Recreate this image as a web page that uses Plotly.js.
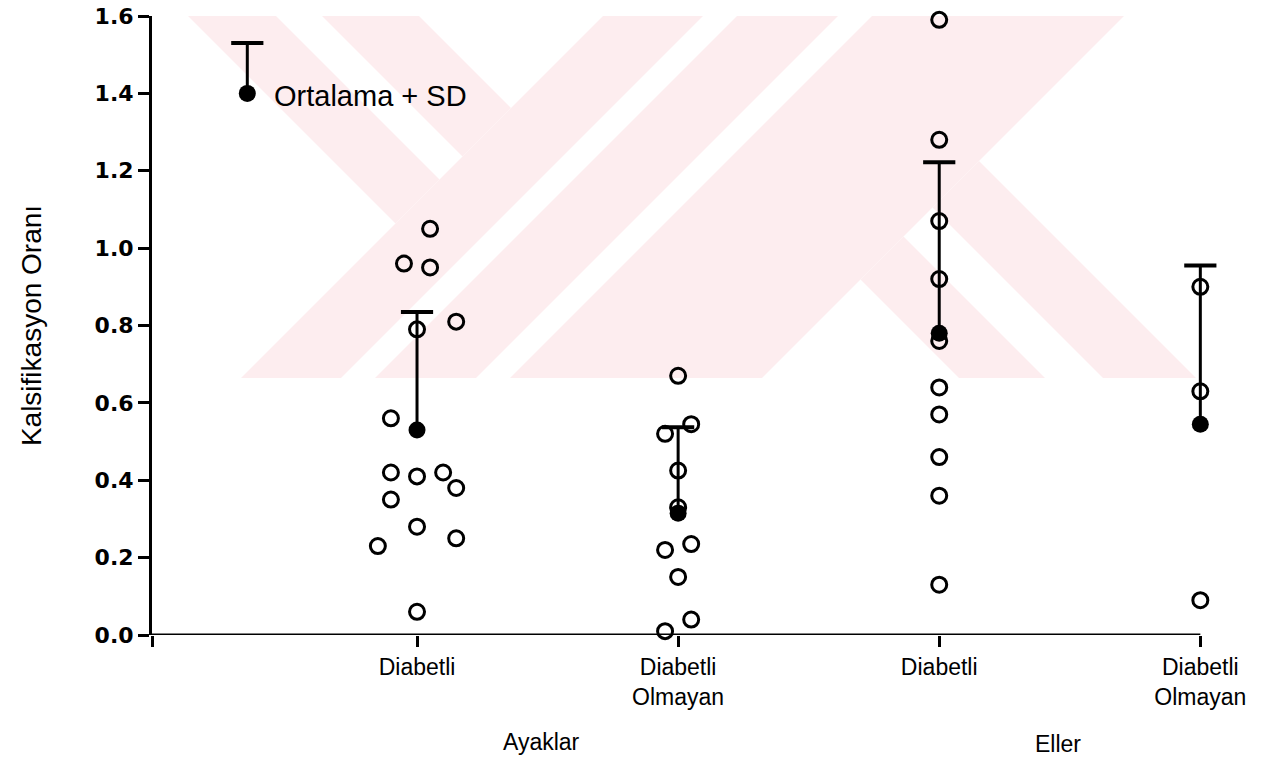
<!DOCTYPE html>
<html>
<head>
<meta charset="utf-8">
<script src="https://cdn.plot.ly/plotly-3.0.1.min.js"></script>
<style>html,body{margin:0;padding:0;background:#fff;}#chart{width:1264px;height:762px;}</style>
</head>
<body>
<div id="chart"></div>
<script>
// ---- data ----
const categories = ['Diabetli', 'Diabetli<br>Olmayan', 'Diabetli', 'Diabetli<br>Olmayan'];
const categoryPos = [1, 2, 3, 4];
const groupLabels = ['Ayaklar', 'Eller'];

// Ayaklar - Diabetli
const ayakDiabValues = [1.05, 0.96, 0.95, 0.81, 0.79, 0.56, 0.42, 0.41, 0.42, 0.38, 0.35, 0.28, 0.25, 0.23, 0.06];
const ayakDiabJitter = [0.05, -0.05, 0.05, 0.15, 0, -0.10, -0.10, 0, 0.10, 0.15, -0.10, 0, 0.15, -0.15, 0];
// Ayaklar - Diabetli Olmayan
const ayakNonValues = [0.67, 0.52, 0.545, 0.425, 0.33, 0.22, 0.235, 0.15, 0.04, 0.01];
const ayakNonJitter = [0, -0.05, 0.05, 0, 0, -0.05, 0.05, 0, 0.05, -0.05];
// Eller - Diabetli
const elDiabValues = [1.59, 1.28, 1.07, 0.92, 0.76, 0.64, 0.57, 0.46, 0.36, 0.13];
const elDiabJitter = [0, 0, 0, 0, 0, 0, 0, 0, 0, 0];
// Eller - Diabetli Olmayan
const elNonValues = [0.90, 0.63, 0.09];
const elNonJitter = [0, 0, 0];

// Ortalama + SD
const means = [0.53, 0.315, 0.78, 0.545];
const sds = [0.305, 0.222, 0.442, 0.41];

// legend sample
const legendText = 'Ortalama + SD';
const legendX = [0.35];
const legendMean = [1.40];
const legendSD = [0.13];

const yTicks = [0, 0.2, 0.4, 0.6, 0.8, 1.0, 1.2, 1.4, 1.6];
const yTitle = 'Kalsifikasyon Oranı';

// ---- build traces ----
const narrow = '"Liberation Sans Narrow", "Arial Narrow", "Liberation Sans", Arial, sans-serif';
function openTrace(pos, vals, jit) {
  return {
    type: 'scatter', mode: 'markers',
    x: vals.map((v, i) => pos + jit[i]), y: vals,
    cliponaxis: false, showlegend: false, hoverinfo: 'y',
    marker: {symbol: 'circle-open', size: 15, color: '#000', line: {width: 3, color: '#000'}}
  };
}
function meanTraces(xs, ms, ss) {
  return [
    { // vertical SD line, no caps
      type: 'scatter', mode: 'markers', x: xs, y: ms, cliponaxis: false, showlegend: false,
      marker: {symbol: 'circle', size: 17, color: '#000'},
      error_y: {type: 'data', array: ss, arrayminus: ss.map(() => 0), symmetric: false,
                color: '#000', thickness: 3, width: 0}
    },
    { // top cap only
      type: 'scatter', mode: 'markers', x: xs, y: ms.map((m, i) => m + ss[i]),
      cliponaxis: false, showlegend: false, hoverinfo: 'skip',
      marker: {symbol: 'line-ew', size: 23, color: '#000', line: {width: 4, color: '#000'}}
    }
  ];
}
const traces = [
  openTrace(categoryPos[0], ayakDiabValues, ayakDiabJitter),
  openTrace(categoryPos[1], ayakNonValues, ayakNonJitter),
  openTrace(categoryPos[2], elDiabValues, elDiabJitter),
  openTrace(categoryPos[3], elNonValues, elNonJitter)
].concat(meanTraces(categoryPos, means, sds), meanTraces(legendX, legendMean, legendSD));

// ---- frame geometry ----
const xMin = -0.015, xAxisEnd = 4, xMax = 4.06;
const L = 152, T = 16, H = 619;
const unitPx = (1200 - L) / (xAxisEnd - xMin);
const W = Math.round(unitPx * (xMax - xMin));

// ---- background watermark (pale stripes), in pixel geometry of the frame ----
function P(px, py) { return ((px - L) / W).toFixed(5) + ',' + ((T + H - py) / H).toFixed(5); }
const wmPolys = [
  [[188,16],[276,16],[439.5,179.5],[395.5,223.5]],
  [[322,16],[419,16],[511,108],[462.5,156.5]],
  [[603,16],[703,16],[341,378],[241,378]],
  [[737,16],[838,16],[476,378],[375,378]],
  [[872,16],[1124,16],[762,378],[510,378]],
  [[860.5,279.5],[903.5,236.5],[1045,378],[959,378]],
  [[932.5,207.5],[979,161],[1196,378],[1103,378]]
];
const shapes = wmPolys.map(poly => ({
  type: 'path', xref: 'paper', yref: 'paper', layer: 'below',
  path: 'M' + poly.map(p => P(p[0], p[1])).join(' L') + ' Z',
  fillcolor: '#fdedef', line: {width: 0}
}));
// x axis line ending at the last category tick
shapes.push({type: 'line', xref: 'x', yref: 'y', x0: xMin, x1: xAxisEnd, y0: 0, y1: 0,
             layer: 'above', line: {color: '#000', width: 3}});

const layout = {
  width: 1264, height: 762,
  margin: {l: L, r: 1264 - L - W, t: T, b: 762 - T - H},
  paper_bgcolor: '#fff', plot_bgcolor: 'rgba(0,0,0,0)',
  showlegend: false,
  font: {family: narrow, color: '#000'},
  xaxis: {
    range: [xMin, xMax], showgrid: false, zeroline: false, showline: false,
    ticks: 'outside', ticklen: 11, tickwidth: 3, tickcolor: '#000',
    tickvals: [xMin].concat(categoryPos), ticktext: [''].concat(categories),
    tickfont: {family: narrow, size: 23, color: '#000'}
  },
  yaxis: {
    range: [0, 1.6], showgrid: false, zeroline: false,
    showline: true, linewidth: 3, linecolor: '#000',
    ticks: 'outside', ticklen: 11, tickwidth: 3, tickcolor: '#000',
    tickvals: yTicks, ticktext: yTicks.map(v => v.toFixed(1)),
    tickfont: {family: '"DejaVu Sans", Verdana, sans-serif', size: 22, weight: 'bold', color: '#000'},
    title: {text: yTitle, font: {family: narrow, size: 28, color: '#000'}, standoff: 45}
  },
  annotations: [
    {xref: 'paper', yref: 'paper', x: (541 - L) / W, y: (T + H - 742) / H, text: groupLabels[0],
     showarrow: false, xanchor: 'center', yanchor: 'middle', font: {family: narrow, size: 23, color: '#000'}},
    {xref: 'paper', yref: 'paper', x: (1058 - L) / W, y: (T + H - 744) / H, text: groupLabels[1],
     showarrow: false, xanchor: 'center', yanchor: 'middle', font: {family: narrow, size: 23, color: '#000'}},
    {xref: 'x', yref: 'y', x: legendX[0], y: legendMean[0], text: legendText, showarrow: false,
     xanchor: 'left', yanchor: 'middle', xshift: 25, yshift: -3, font: {family: narrow, size: 29, color: '#000'}}
  ],
  shapes: shapes
};

Plotly.newPlot('chart', traces, layout, {displayModeBar: false, staticPlot: true});
</script>
</body>
</html>
